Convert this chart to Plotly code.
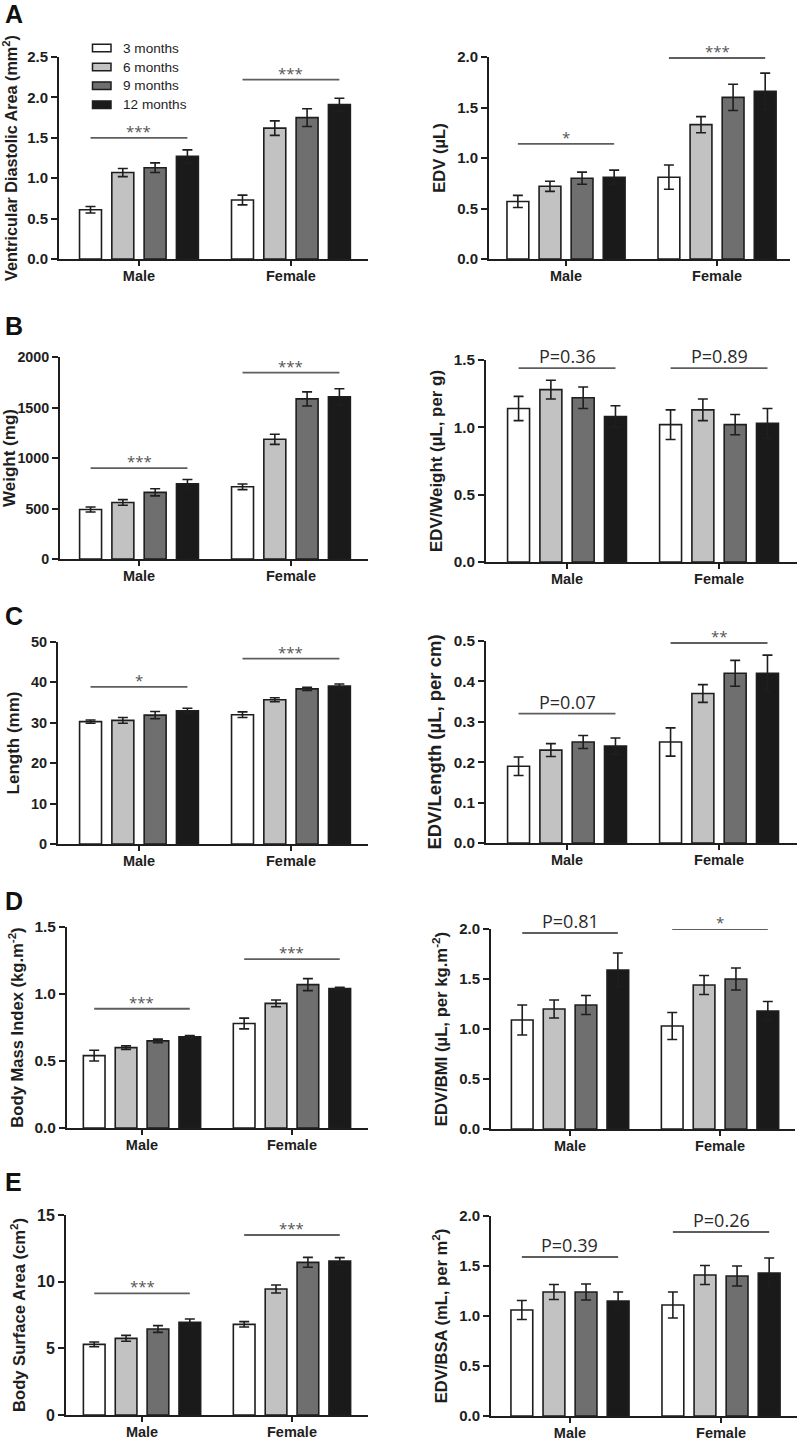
import plotly.graph_objects as go

sexes = ["Male", "Female"]
ages = ["3 months", "6 months", "9 months", "12 months"]
age_colors = ["#ffffff", "#c2c2c2", "#6f6f6f", "#1a1a1a"]

# Panel A left: ventricular diastolic area
vda_male = [0.61, 1.07, 1.13, 1.27]
vda_male_err = [0.04, 0.05, 0.06, 0.08]
vda_female = [0.73, 1.62, 1.75, 1.91]
vda_female_err = [0.06, 0.09, 0.11, 0.08]
vda_sig = ["***", "***"]
vda_sig_y = [1.50, 2.22]

# Panel A right: EDV
edv_male = [0.57, 0.72, 0.80, 0.81]
edv_male_err = [0.06, 0.05, 0.06, 0.07]
edv_female = [0.81, 1.33, 1.60, 1.66]
edv_female_err = [0.12, 0.08, 0.13, 0.18]
edv_sig = ["*", "***"]
edv_sig_y = [1.14, 1.99]

# Panel B left: weight
weight_male = [490, 560, 660, 745]
weight_male_err = [25, 28, 35, 42]
weight_female = [715, 1185, 1585, 1605]
weight_female_err = [28, 50, 70, 80]
weight_sig = ["***", "***"]
weight_sig_y = [900, 1845]

# Panel B right: EDV / weight
edvw_male = [1.14, 1.28, 1.22, 1.08]
edvw_male_err = [0.09, 0.07, 0.08, 0.08]
edvw_female = [1.02, 1.13, 1.02, 1.03]
edvw_female_err = [0.11, 0.08, 0.075, 0.11]
edvw_sig = ["P=0.36", "P=0.89"]
edvw_sig_y = [1.44, 1.44]

# Panel C left: length
length_male = [30.3, 30.6, 31.9, 33.0]
length_male_err = [0.4, 0.7, 0.9, 0.6]
length_female = [32.0, 35.7, 38.4, 39.1]
length_female_err = [0.7, 0.5, 0.4, 0.5]
length_sig = ["*", "***"]
length_sig_y = [38.9, 45.9]

# Panel C right: EDV / length
edvl_male = [0.19, 0.23, 0.25, 0.24]
edvl_male_err = [0.023, 0.016, 0.016, 0.02]
edvl_female = [0.25, 0.37, 0.42, 0.42]
edvl_female_err = [0.035, 0.022, 0.032, 0.045]
edvl_sig = ["P=0.07", "**"]
edvl_sig_y = [0.32, 0.495]

# Panel D left: BMI
bmi_male = [0.54, 0.60, 0.65, 0.68]
bmi_male_err = [0.04, 0.013, 0.013, 0.01]
bmi_female = [0.78, 0.93, 1.07, 1.04]
bmi_female_err = [0.04, 0.025, 0.045, 0.01]
bmi_sig = ["***", "***"]
bmi_sig_y = [0.89, 1.26]

# Panel D right: EDV / BMI
edvb_male = [1.09, 1.20, 1.24, 1.59]
edvb_male_err = [0.15, 0.09, 0.095, 0.17]
edvb_female = [1.03, 1.44, 1.50, 1.18]
edvb_female_err = [0.135, 0.095, 0.11, 0.095]
edvb_sig = ["P=0.81", "*"]
edvb_sig_y = [1.96, 2.0]

# Panel E left: BSA
bsa_male = [5.3, 5.75, 6.45, 6.95]
bsa_male_err = [0.18, 0.22, 0.25, 0.25]
bsa_female = [6.8, 9.45, 11.45, 11.55]
bsa_female_err = [0.2, 0.3, 0.37, 0.25]
bsa_sig = ["***", "***"]
bsa_sig_y = [9.12, 13.5]

# Panel E right: EDV / BSA
edvs_male = [1.06, 1.24, 1.24, 1.15]
edvs_male_err = [0.095, 0.075, 0.08, 0.09]
edvs_female = [1.11, 1.41, 1.40, 1.43]
edvs_female_err = [0.13, 0.095, 0.10, 0.15]
edvs_sig = ["P=0.39", "P=0.26"]
edvs_sig_y = [1.59, 1.84]

panel_letters = ["A", "B", "C", "D", "E"]

W, H = 798, 1439
BARGAP = 0.15
BARGROUPGAP = 0.32
DARK = "#1e1e1e"
FONT = "Liberation Sans"


def px(x):
    return x / W


def py(y):
    return 1 - y / H


panels = [
    dict(m=vda_male, me=vda_male_err, f=vda_female, fe=vda_female_err, sig=vda_sig, sy=vda_sig_y,
         title="Ventricular Diastolic Area (mm<sup>2</sup>)", ymax=2.5, dtick=0.5, fmt=".1f",
         geo=(59, 368, 57, 259), xr=[-0.526, 1.507], tf=15, ttf=16.2),
    dict(m=edv_male, me=edv_male_err, f=edv_female, fe=edv_female_err, sig=edv_sig, sy=edv_sig_y,
         title="EDV (µL)", ymax=2.0, dtick=0.5, fmt=".1f",
         geo=(489, 790, 57, 259), xr=[-0.51, 1.483], tf=15, ttf=16.6),
    dict(m=weight_male, me=weight_male_err, f=weight_female, fe=weight_female_err, sig=weight_sig, sy=weight_sig_y,
         title="Weight (mg)", ymax=2000, dtick=500, fmt="d",
         geo=(60, 368, 357, 559), xr=[-0.52, 1.507], tf=14.3, ttf=17),
    dict(m=edvw_male, me=edvw_male_err, f=edvw_female, fe=edvw_female_err, sig=edvw_sig, sy=edvw_sig_y,
         title="EDV/Weight (µL, per g)", ymax=1.5, dtick=0.5, fmt=".1f",
         geo=(486, 797, 360, 562), xr=[-0.533, 1.513], tf=15.3, ttf=16.9),
    dict(m=length_male, me=length_male_err, f=length_female, fe=length_female_err, sig=length_sig, sy=length_sig_y,
         title="Length (mm)", ymax=50, dtick=10, fmt="d",
         geo=(58, 368, 642, 844), xr=[-0.533, 1.507], tf=14.5, ttf=17),
    dict(m=edvl_male, me=edvl_male_err, f=edvl_female, fe=edvl_female_err, sig=edvl_sig, sy=edvl_sig_y,
         title="EDV/Length (µL, per cm)", ymax=0.5, dtick=0.1, fmt=".1f",
         geo=(486, 797, 641, 843), xr=[-0.533, 1.513], tf=15.3, ttf=18.5),
    dict(m=bmi_male, me=bmi_male_err, f=bmi_female, fe=bmi_female_err, sig=bmi_sig, sy=bmi_sig_y,
         title="Body Mass Index (kg.m<sup>-2</sup>)", ymax=1.5, dtick=0.5, fmt=".1f",
         geo=(67, 368, 927, 1128), xr=[-0.5, 1.507], tf=15.5, ttf=16.6),
    dict(m=edvb_male, me=edvb_male_err, f=edvb_female, fe=edvb_female_err, sig=edvb_sig, sy=edvb_sig_y,
         title="EDV/BMI (µL, per kg.m<sup>-2</sup>)", ymax=2.0, dtick=0.5, fmt=".1f",
         geo=(491, 795, 929, 1129), xr=[-0.527, 1.5], tf=15, ttf=16.7),
    dict(m=bsa_male, me=bsa_male_err, f=bsa_female, fe=bsa_female_err, sig=bsa_sig, sy=bsa_sig_y,
         title="Body Surface Area (cm<sup>2</sup>)", ymax=15, dtick=5, fmt="d",
         geo=(66, 368, 1215, 1415), xr=[-0.507, 1.507], tf=16, ttf=16.6),
    dict(m=edvs_male, me=edvs_male_err, f=edvs_female, fe=edvs_female_err, sig=edvs_sig, sy=edvs_sig_y,
         title="EDV/BSA (mL, per m<sup>2</sup>)", ymax=2.0, dtick=0.5, fmt=".1f",
         geo=(491, 797, 1216, 1416), xr=[-0.523, 1.503], tf=15, ttf=16.6),
]

letter_y = [14, 326, 616, 901, 1182]
legend_rows_y = [48, 67, 85.7, 104.7]

fig = go.Figure()
layout = dict(
    width=W, height=H,
    margin=dict(l=0, r=0, t=0, b=0, autoexpand=False),
    paper_bgcolor="white", plot_bgcolor="white",
    barmode="group", bargap=BARGAP, bargroupgap=BARGROUPGAP,
    font=dict(family=FONT, color=DARK),
    showlegend=False,
)

shapes = []
annotations = []
slot = (1 - BARGAP) / 4
half_span = 1.5 * slot

for i, p in enumerate(panels):
    n = i + 1
    xa = "x" if n == 1 else f"x{n}"
    ya = "y" if n == 1 else f"y{n}"
    xkey = "xaxis" if n == 1 else f"xaxis{n}"
    ykey = "yaxis" if n == 1 else f"yaxis{n}"
    x0, x1, yt, yb = p["geo"]
    for j, age in enumerate(ages):
        fig.add_trace(go.Bar(
            x=[0, 1], y=[p["m"][j], p["f"][j]],
            name=age, legendgroup=age,
            marker=dict(color=age_colors[j], line=dict(color=DARK, width=1.6)),
            error_y=dict(type="data", array=[p["me"][j], p["fe"][j]], color=DARK,
                         thickness=1.6, width=5),
            xaxis=xa, yaxis=ya,
        ))
    layout[xkey] = dict(
        domain=[px(x0), px(x1)], anchor=ya, range=p["xr"], automargin=False,
        tickvals=[0, 1], ticktext=sexes, ticks="outside", ticklen=5, tickwidth=1.6,
        tickcolor=DARK, showline=True, linecolor=DARK, linewidth=1.8,
        showgrid=False, zeroline=False, fixedrange=True, ticklabelstandoff=-2,
        tickfont=dict(family=FONT, size=14.5, color=DARK, weight="bold"),
    )
    layout[ykey] = dict(
        domain=[py(yb), py(yt)], anchor=xa, range=[0, p["ymax"]], automargin=False,
        dtick=p["dtick"], tick0=0, tickformat=p["fmt"], ticks="outside", ticklen=6,
        tickwidth=1.6, tickcolor=DARK, showline=True, linecolor=DARK, linewidth=1.8,
        showgrid=False, zeroline=False,
        tickfont=dict(family=FONT, size=p["tf"], color=DARK, weight="bold"),
        title=dict(text=p["title"], standoff=7,
                   font=dict(family=FONT, size=p["ttf"], color=DARK, weight="bold")),
    )
    for k, c in enumerate([0, 1]):
        shapes.append(dict(type="line", xref=xa, yref=ya,
                           x0=c - half_span, x1=c + half_span,
                           y0=p["sy"][k], y1=p["sy"][k],
                           line=dict(color="#5e5e5e", width=1.8)))
        txt = p["sig"][k]
        if txt.startswith("P"):
            fnt = dict(family="Open Sans", size=18, color="#2a2a2a")
            ys = -2
        else:
            fnt = dict(family="Open Sans", size=15, color="#555555")
            ys = -5
        annotations.append(dict(x=c, y=p["sy"][k], xref=xa, yref=ya, text=txt,
                                showarrow=False, xanchor="center", yanchor="bottom",
                                yshift=ys, font=fnt))

# legend (drawn as keys + labels at the reference position)
for j, age in enumerate(ages):
    ry = legend_rows_y[j]
    shapes.append(dict(type="rect", xref="paper", yref="paper",
                       x0=px(92.5), x1=px(111), y0=py(ry + 3.8), y1=py(ry - 3.8),
                       fillcolor=age_colors[j], line=dict(color=DARK, width=1.5)))
    annotations.append(dict(x=px(121), y=py(ry), xref="paper", yref="paper",
                            text=age, showarrow=False, xanchor="left", yanchor="middle",
                            font=dict(family=FONT, size=13.6, color=DARK)))

for letter, ly in zip(panel_letters, letter_y):
    annotations.append(dict(x=px(3), y=py(ly), xref="paper", yref="paper",
                            text=f"<b>{letter}</b>", showarrow=False,
                            xanchor="left", yanchor="middle",
                            font=dict(family=FONT, size=25, color="#111111")))

layout["shapes"] = shapes
layout["annotations"] = annotations
fig.update_layout(**layout)
# remove the browser's default page margin so the figure sits at the window origin
fig.write_html("out.html", config={"displayModeBar": False},
               post_script="document.body.style.margin='0px';")
